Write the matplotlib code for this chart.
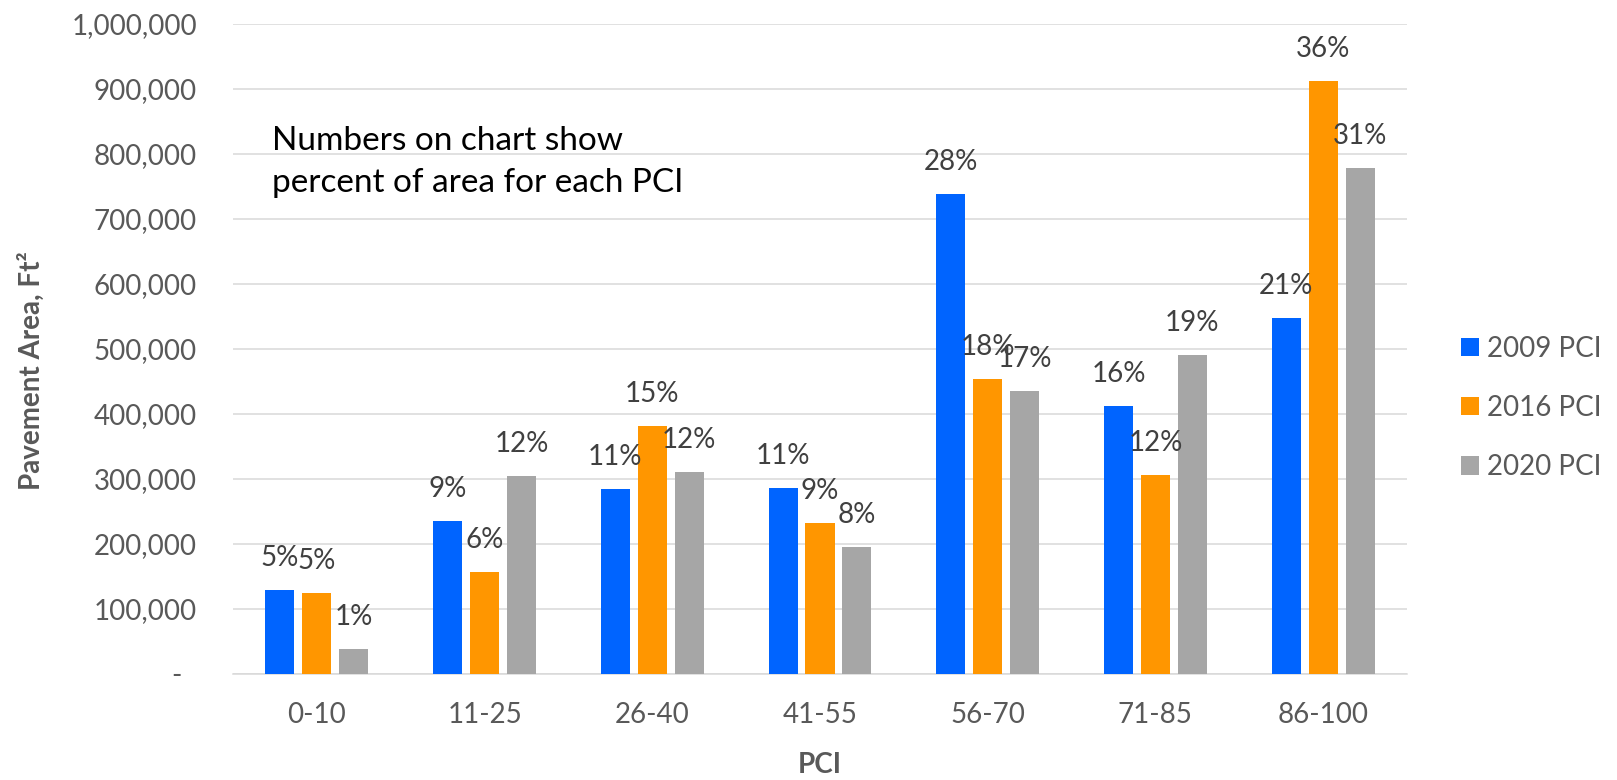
"""Pavement area by PCI band, 2009 / 2016 / 2020."""

import matplotlib
matplotlib.use("Agg")
import matplotlib.pyplot as plt
import numpy as np
from matplotlib.patches import Patch
from matplotlib.ticker import FuncFormatter, MultipleLocator

plt.rcParams["font.family"] = ["Lato", "DejaVu Sans"]

categorias = ["0-10", "11-25", "26-40", "41-55", "56-70", "71-85", "86-100"]
series = ["2009 PCI", "2016 PCI", "2020 PCI"]
area_2009 = [129000, 236000, 285000, 286000, 738000, 412000, 548000]
area_2016 = [125000, 157000, 382000, 232000, 454000, 306000, 912000]
area_2020 = [38000, 305000, 311000, 195000, 435000, 491000, 779000]
pct_2009 = ["5%", "9%", "11%", "11%", "28%", "16%", "21%"]
pct_2016 = ["5%", "6%", "15%", "9%", "18%", "12%", "36%"]
pct_2020 = ["1%", "12%", "12%", "8%", "17%", "19%", "31%"]

colores = ["#0064FF", "#FF9600", "#A6A6A6"]
gris_texto = "#595959"
gris_etiqueta = "#404040"
gris_rejilla = "#D9D9D9"


def formato_eje(valor, _pos):
    if valor == 0:
        return "-  "
    return f"{valor:,.0f}"


fig = plt.figure(figsize=(16.17, 7.8), dpi=100)
ax = fig.add_axes([233 / 1617, 1 - 674 / 780, 1174 / 1617, 650 / 780])

x = np.arange(len(categorias))
ancho = 0.173
paso = 0.220
valores = [area_2009, area_2016, area_2020]
etiquetas = [pct_2009, pct_2016, pct_2020]

for i, (vals, pcts, color) in enumerate(zip(valores, etiquetas, colores)):
    posiciones = x + (i - 1) * paso
    ax.bar(posiciones, vals, width=ancho, color=color, zorder=3)
    for xp, v, texto in zip(posiciones, vals, pcts):
        ax.annotate(texto, xy=(xp, v), xytext=(0, 23), textcoords="offset points",
                    ha="center", va="center", fontsize=20, color=gris_etiqueta, zorder=4)

ax.set_xlim(-0.5, len(categorias) - 0.5)
ax.set_ylim(0, 1_000_000)
ax.yaxis.set_major_locator(MultipleLocator(100_000))
ax.yaxis.set_major_formatter(FuncFormatter(formato_eje))
ax.set_xticks(x)
ax.set_xticklabels(categorias)

ax.grid(axis="y", color=gris_rejilla, linewidth=1.1)
ax.set_axisbelow(True)
for lado in ["top", "right", "left"]:
    ax.spines[lado].set_visible(False)
ax.spines["bottom"].set_color(gris_rejilla)
ax.spines["bottom"].set_linewidth(1.1)

ax.tick_params(axis="y", length=0, pad=26, labelsize=20, labelcolor=gris_texto)
ax.tick_params(axis="x", length=0, pad=20, labelsize=20, labelcolor=gris_texto)

ax.set_ylabel("Pavement Area, Ft²", fontsize=20, fontweight="bold", color=gris_texto,
              ha="center", va="center", rotation_mode="default")
ax.yaxis.set_label_coords(-0.1719, 0.466)
ax.set_xlabel("PCI", fontsize=20, fontweight="bold", color=gris_texto, va="center")
ax.xaxis.set_label_coords(0.5, -0.140)

fig.text(272 / 1617, 1 - 126 / 780, "Numbers on chart show\npercent of area for each PCI",
         fontsize=24, ha="left", va="top", linespacing=1.5, color="black")

manijas = [Patch(facecolor=c, edgecolor="none") for c in colores]
ax.legend(manijas, series, loc="center left", bbox_to_anchor=(1461 / 1617, 1 - 408 / 780),
          bbox_transform=fig.transFigure, frameon=False, fontsize=20, labelcolor=gris_texto,
          handlelength=0.64, handleheight=0.64, handletextpad=0.3, labelspacing=1.2,
          borderpad=0, borderaxespad=0)

fig.savefig("out.png", dpi=100)
